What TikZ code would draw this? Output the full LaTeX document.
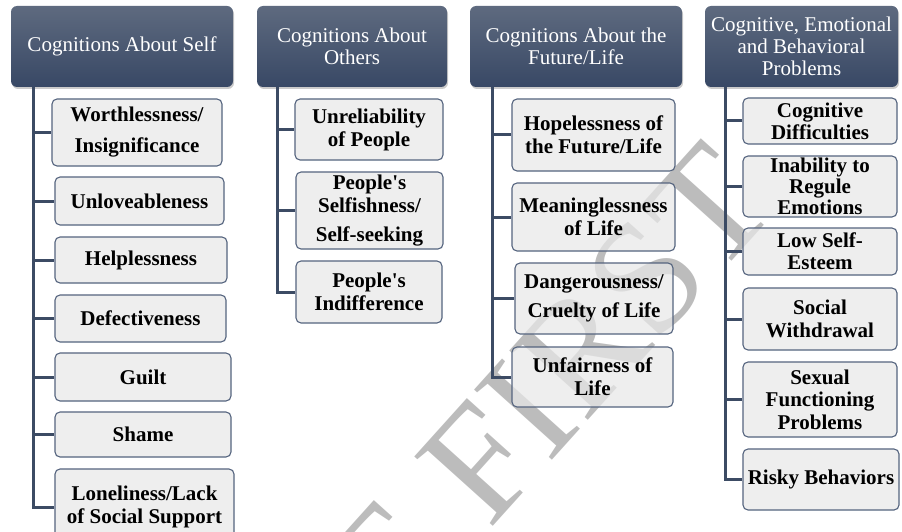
\documentclass[tikz,border=0pt]{standalone}
\usepackage{fontspec}
\setmainfont{Liberation Serif}
\usetikzlibrary{shadows}

\definecolor{hTop}{RGB}{94,106,127}
\definecolor{hBot}{RGB}{56,72,101}
\definecolor{boxFill}{RGB}{232,232,232}
\definecolor{boxLine}{RGB}{84,99,126}
\definecolor{trunkC}{RGB}{60,75,100}
\definecolor{wmC}{RGB}{188,188,188}

\tikzset{
  head/.style={rounded corners=6pt, top color=hTop, bottom color=hBot, draw=none,
    text=white, align=center, inner sep=0pt,
    font=\fontsize{21}{22}\selectfont,
    drop shadow={shadow xshift=1pt, shadow yshift=-2pt, fill=black!45, opacity=0.45}},
  item/.style={rounded corners=5pt, fill=boxFill, fill opacity=0.72, text opacity=1,
    draw=boxLine, line width=1.1pt, align=center, inner sep=0pt, text=black,
    font=\bfseries\fontsize{21}{23}\selectfont},
  trunk/.style={draw=trunkC, line width=3pt},
  wmark/.style={text=wmC, rotate=48, inner sep=0pt, font=\fontsize{160}{160}\selectfont}
}

\begin{document}
\begin{tikzpicture}[x=1pt, y=-1pt]
\clip (0,0) rectangle (902,532);

% faint background lettering
\node[wmark] (wm) at (550,385) {E FIRST};

% column headings
\node[head, minimum width=222pt, minimum height=81pt] (h1) at (122,46.5) {Cognitions About Self};
\node[head, minimum width=190pt, minimum height=81pt] (h2) at (352,46.5) {Cognitions About\\Others};
\node[head, minimum width=212pt, minimum height=81pt] (h3) at (576,46.5) {Cognitions About the\\Future/Life};
\node[head, minimum width=193pt, minimum height=81pt] (h4) at (801.5,46.5) {Cognitive, Emotional\\and Behavioral\\Problems};

% trunk tops
\coordinate (t1) at (33,87);
\coordinate (t2) at (277,87);
\coordinate (t3) at (492,87);
\coordinate (t4) at (725,87);

% cognitions about self
\node[item, minimum width=170pt, minimum height=67pt] (a1) at (137,132.5) {Worthlessness/\\[8pt]Insignificance};
\node[item, minimum width=169pt, minimum height=48pt] (a2) at (139.5,201) {Unloveableness};
\node[item, minimum width=172pt, minimum height=46pt] (a3) at (141,260) {Helplessness};
\node[item, minimum width=171pt, minimum height=47pt] (a4) at (140.5,318.5) {Defectiveness};
\node[item, minimum width=176pt, minimum height=48pt] (a5) at (143,377) {Guilt};
\node[item, minimum width=176pt, minimum height=45pt] (a6) at (143,434.5) {Shame};
\node[item, minimum width=179pt, minimum height=76pt] (a7) at (144.5,507) {Loneliness/Lack\\of Social Support};

% cognitions about others
\node[item, minimum width=148pt, minimum height=61pt] (b1) at (369,129.5) {Unreliability\\of People};
\node[item, minimum width=147pt, minimum height=77pt] (b2) at (369.5,210.5) {People\textquotesingle s\\Selfishness/\\[6pt]Self-seeking};
\node[item, minimum width=146pt, minimum height=62pt] (b3) at (369,292) {People\textquotesingle s\\Indifference};

% cognitions about the future/life
\node[item, minimum width=163pt, minimum height=72pt] (c1) at (593.5,135) {Hopelessness of\\the Future/Life};
\node[item, minimum width=163pt, minimum height=68pt] (c2) at (593.5,217) {Meaninglessness\\of Life};
\node[item, minimum width=158pt, minimum height=71pt] (c3) at (594,298.5) {Dangerousness/\\[6pt]Cruelty of Life};
\node[item, minimum width=161pt, minimum height=60pt] (c4) at (592.5,377) {Unfairness of\\Life};

% cognitive, emotional and behavioral problems
\node[item, minimum width=154pt, minimum height=46pt, font=\bfseries\fontsize{21}{22}\selectfont] (d1) at (820,121) {Cognitive\\Difficulties};
\node[item, minimum width=154pt, minimum height=61pt, font=\bfseries\fontsize{21}{21}\selectfont] (d2) at (820,186.5) {Inability to\\Regule\\Emotions};
\node[item, minimum width=154pt, minimum height=47pt, font=\bfseries\fontsize{21}{22}\selectfont] (d3) at (820,251.5) {Low Self-\\Esteem};
\node[item, minimum width=154pt, minimum height=62pt] (d4) at (820,319) {Social\\Withdrawal};
\node[item, minimum width=154pt, minimum height=75pt, font=\bfseries\fontsize{21}{22.5}\selectfont] (d5) at (820,399.5) {Sexual\\Functioning\\Problems};
\node[item, minimum width=156pt, minimum height=61pt] (d6) at (821,479.5) {Risky Behaviors};

% connectors
\draw[trunk] (t1) |- (a7.west);
\foreach \n in {a1,a2,a3,a4,a5,a6} \draw[trunk] (t1 |- \n.west) -- (\n.west);
\draw[trunk] (t2) |- (b3.west);
\foreach \n in {b1,b2} \draw[trunk] (t2 |- \n.west) -- (\n.west);
\draw[trunk] (t3) |- (c4.west);
\foreach \n in {c1,c2,c3} \draw[trunk] (t3 |- \n.west) -- (\n.west);
\draw[trunk] (t4) |- (d6.west);
\foreach \n in {d1,d2,d3,d4,d5} \draw[trunk] (t4 |- \n.west) -- (\n.west);
\end{tikzpicture}
\end{document}
